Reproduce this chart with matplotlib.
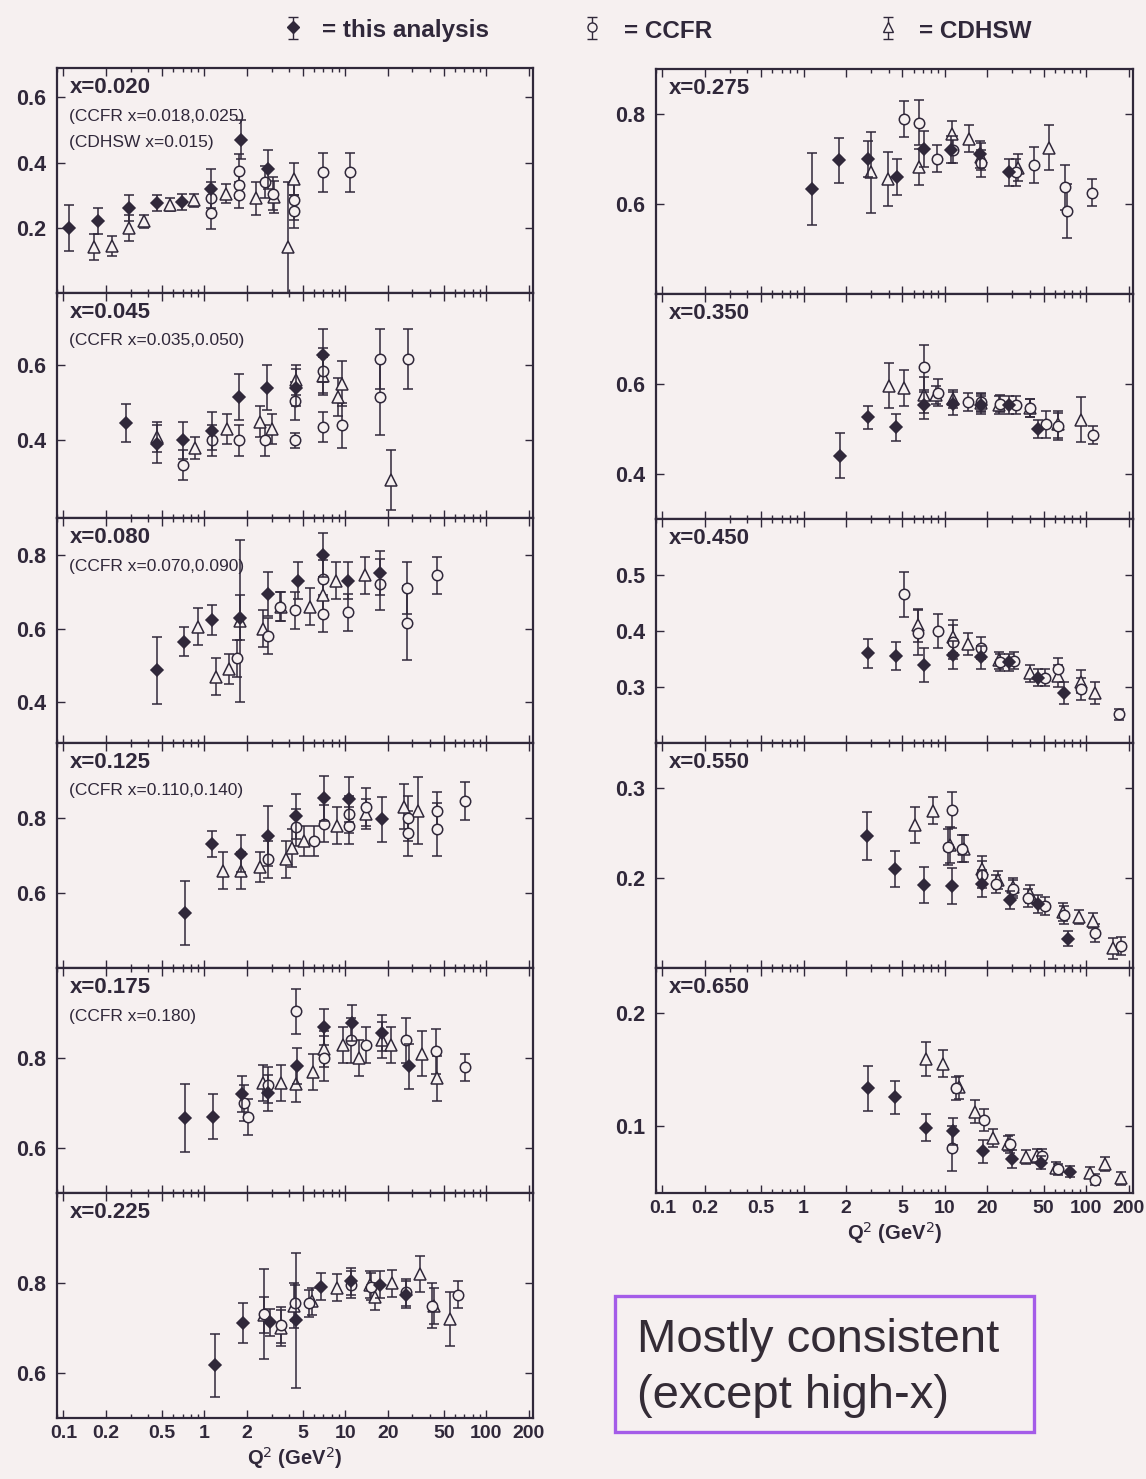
import matplotlib
matplotlib.use('Agg')
import matplotlib.pyplot as plt
from matplotlib.ticker import FixedLocator, FixedFormatter, LogLocator, NullFormatter
from matplotlib.patches import Rectangle

plt.rcParams['font.family'] = ['Liberation Sans', 'DejaVu Sans']

W, H = 1146, 1479
BG = '#f6f0f0'
INK = '#30283a'

# ==================== Data: (Q2, F, error) ====================
# x = 0.020
ANA_020 = [(0.11, 0.20, 0.07), (0.177, 0.22, 0.04), (0.29, 0.26, 0.04), (0.46, 0.275, 0.025),
           (0.69, 0.28, 0.025), (1.12, 0.32, 0.06), (1.83, 0.47, 0.06), (2.85, 0.38, 0.06)]
CCFR_020 = [(1.12, 0.29, 0.05), (1.12, 0.245, 0.05), (1.77, 0.375, 0.05), (1.77, 0.33, 0.04),
            (1.77, 0.30, 0.04), (2.7, 0.34, 0.05), (3.05, 0.305, 0.05), (4.35, 0.25, 0.05),
            (4.35, 0.285, 0.06), (6.9, 0.37, 0.06), (10.8, 0.37, 0.06)]
CDHSW_020 = [(0.166, 0.14, 0.04), (0.22, 0.145, 0.03), (0.29, 0.20, 0.04), (0.375, 0.22, 0.02),
             (0.57, 0.27, 0.02), (0.84, 0.285, 0.02), (1.43, 0.305, 0.03), (2.33, 0.29, 0.05),
             (3.1, 0.295, 0.05), (3.9, 0.14, 0.2), (4.35, 0.35, 0.05)]
# x = 0.045
ANA_045 = [(0.28, 0.447, 0.05), (0.46, 0.39, 0.05), (0.71, 0.40, 0.05), (1.14, 0.425, 0.05),
           (1.77, 0.515, 0.06), (2.8, 0.54, 0.06), (4.5, 0.54, 0.05), (7.0, 0.625, 0.07)]
CCFR_045 = [(0.71, 0.335, 0.04), (1.14, 0.40, 0.04), (1.75, 0.40, 0.04), (2.7, 0.40, 0.04),
            (4.4, 0.505, 0.05), (4.4, 0.40, 0.02), (7.0, 0.585, 0.06), (7.0, 0.435, 0.04),
            (9.5, 0.44, 0.06), (17.7, 0.615, 0.08), (17.7, 0.515, 0.1), (28, 0.615, 0.08)]
CDHSW_045 = [(0.46, 0.41, 0.04), (0.86, 0.38, 0.03), (1.45, 0.43, 0.04), (2.5, 0.45, 0.04),
             (3.0, 0.43, 0.04), (4.5, 0.56, 0.04), (7.0, 0.57, 0.05), (8.9, 0.515, 0.05),
             (9.5, 0.55, 0.06), (21, 0.295, 0.08)]
# x = 0.080
ANA_080 = [(0.46, 0.487, 0.09), (0.72, 0.565, 0.04), (1.14, 0.624, 0.04), (1.8, 0.63, 0.06),
           (2.84, 0.694, 0.06), (4.6, 0.73, 0.05), (7.0, 0.80, 0.06), (10.5, 0.73, 0.05),
           (17.7, 0.75, 0.06)]
CCFR_080 = [(1.7, 0.52, 0.05), (2.84, 0.58, 0.05), (3.45, 0.66, 0.04), (4.4, 0.65, 0.05),
            (7.0, 0.735, 0.05), (7.0, 0.64, 0.05), (10.5, 0.645, 0.05), (17.7, 0.72, 0.07),
            (27.5, 0.615, 0.1), (27.5, 0.71, 0.07), (45, 0.745, 0.05)]
CDHSW_080 = [(0.9, 0.605, 0.05), (1.2, 0.47, 0.05), (1.5, 0.49, 0.04), (1.8, 0.62, 0.22),
             (2.6, 0.60, 0.05), (3.5, 0.66, 0.04), (5.6, 0.66, 0.05), (7.0, 0.69, 0.05),
             (8.6, 0.73, 0.05), (13.7, 0.745, 0.05)]
# x = 0.125
ANA_125 = [(0.73, 0.547, 0.085), (1.14, 0.73, 0.035), (1.83, 0.705, 0.05), (2.85, 0.752, 0.08),
           (4.5, 0.805, 0.06), (7.1, 0.853, 0.06), (10.7, 0.85, 0.06), (18.3, 0.797, 0.06)]
CCFR_125 = [(2.85, 0.69, 0.05), (4.5, 0.775, 0.05), (6.0, 0.74, 0.04), (7.1, 0.785, 0.05),
            (10.7, 0.81, 0.05), (10.7, 0.78, 0.05), (14, 0.83, 0.05), (28, 0.80, 0.06),
            (28, 0.76, 0.06), (45, 0.82, 0.05), (45, 0.77, 0.07), (71, 0.845, 0.05)]
CDHSW_125 = [(1.36, 0.66, 0.05), (1.83, 0.66, 0.05), (2.5, 0.67, 0.04), (3.8, 0.69, 0.05),
             (4.2, 0.72, 0.05), (5.1, 0.74, 0.04), (8.7, 0.78, 0.05), (14, 0.81, 0.04),
             (26, 0.83, 0.06), (33, 0.82, 0.09)]
# x = 0.175
ANA_175 = [(0.73, 0.667, 0.075), (1.16, 0.67, 0.05), (1.86, 0.72, 0.04), (2.84, 0.722, 0.04),
           (4.55, 0.782, 0.04), (7.1, 0.87, 0.04), (11.2, 0.878, 0.04), (18.3, 0.855, 0.04),
           (28.4, 0.782, 0.05)]
CCFR_175 = [(1.9, 0.70, 0.04), (2.05, 0.67, 0.04), (2.84, 0.74, 0.04), (4.5, 0.904, 0.05),
            (7.1, 0.80, 0.05), (11, 0.84, 0.05), (14, 0.83, 0.04), (27, 0.84, 0.05),
            (44, 0.815, 0.05), (71, 0.78, 0.03)]
CDHSW_175 = [(2.6, 0.745, 0.04), (3.5, 0.745, 0.04), (4.5, 0.742, 0.04), (5.9, 0.77, 0.04),
             (7.1, 0.82, 0.04), (9.7, 0.83, 0.04), (12.5, 0.80, 0.04), (18.3, 0.84, 0.04),
             (21, 0.83, 0.04), (35, 0.81, 0.05), (45, 0.755, 0.05)]
# x = 0.225
ANA_225 = [(1.19, 0.617, 0.07), (1.87, 0.711, 0.045), (2.91, 0.713, 0.03), (4.5, 0.717, 0.15),
           (6.7, 0.792, 0.03), (10.9, 0.804, 0.03), (17.7, 0.796, 0.03), (27, 0.774, 0.03)]
CCFR_225 = [(2.63, 0.732, 0.1), (3.5, 0.706, 0.04), (4.4, 0.755, 0.04), (5.5, 0.755, 0.03),
            (10.9, 0.796, 0.03), (15.3, 0.792, 0.03), (27, 0.78, 0.03), (41, 0.75, 0.05),
            (63, 0.774, 0.03)]
CDHSW_225 = [(2.63, 0.73, 0.04), (3.5, 0.70, 0.04), (4.3, 0.75, 0.05), (5.8, 0.76, 0.03),
             (8.7, 0.79, 0.03), (14.9, 0.796, 0.03), (16.2, 0.77, 0.03), (21.6, 0.80, 0.03),
             (34, 0.82, 0.04), (42.5, 0.75, 0.04), (55, 0.72, 0.06)]
# x = 0.275
ANA_275 = [(1.14, 0.633, 0.08), (1.77, 0.697, 0.05), (2.84, 0.70, 0.04), (4.56, 0.66, 0.04),
           (7.1, 0.723, 0.04), (11, 0.72, 0.03), (17.7, 0.71, 0.03), (28.5, 0.67, 0.03)]
CCFR_275 = [(5.1, 0.789, 0.04), (6.6, 0.78, 0.05), (8.8, 0.70, 0.03), (11.5, 0.72, 0.03),
            (18, 0.69, 0.03), (32, 0.67, 0.03), (43, 0.687, 0.04), (71, 0.637, 0.05),
            (73, 0.585, 0.06), (110, 0.625, 0.03)]
CDHSW_275 = [(3.0, 0.67, 0.09), (3.95, 0.655, 0.06), (6.6, 0.683, 0.04), (11.2, 0.755, 0.03),
             (14.8, 0.745, 0.03), (18, 0.705, 0.03), (33, 0.68, 0.03), (55, 0.725, 0.05)]
# x = 0.350
ANA_350 = [(1.8, 0.44, 0.05), (2.84, 0.525, 0.025), (4.5, 0.503, 0.03), (7.1, 0.552, 0.03),
           (11.4, 0.556, 0.025), (18, 0.553, 0.02), (28.5, 0.553, 0.02), (45.5, 0.50, 0.02)]
CCFR_350 = [(7.1, 0.637, 0.05), (9, 0.58, 0.03), (14.5, 0.56, 0.02), (18, 0.56, 0.02),
            (24.5, 0.556, 0.02), (32, 0.553, 0.02), (40, 0.545, 0.02), (52, 0.51, 0.03),
            (63, 0.505, 0.03), (112, 0.487, 0.02)]
CDHSW_350 = [(4.0, 0.595, 0.05), (5.1, 0.59, 0.04), (7.1, 0.575, 0.04), (8.7, 0.575, 0.02),
             (11.5, 0.565, 0.02), (18, 0.557, 0.02), (24, 0.553, 0.02), (40, 0.545, 0.02),
             (63, 0.51, 0.03), (92, 0.52, 0.05)]
# x = 0.450
ANA_450 = [(2.84, 0.36, 0.025), (4.5, 0.355, 0.025), (7.1, 0.34, 0.03), (11.4, 0.358, 0.025),
           (18, 0.353, 0.02), (28.5, 0.344, 0.015), (45.5, 0.317, 0.015), (70, 0.29, 0.02)]
CCFR_450 = [(5.1, 0.465, 0.04), (6.5, 0.397, 0.04), (9, 0.40, 0.03), (11.4, 0.38, 0.03),
            (18, 0.37, 0.02), (24.5, 0.344, 0.015), (31, 0.347, 0.015), (51, 0.317, 0.015),
            (63, 0.332, 0.02), (92, 0.297, 0.02), (170, 0.252, 0.01)]
CDHSW_450 = [(6.5, 0.41, 0.03), (11.4, 0.39, 0.03), (14.5, 0.377, 0.02), (24, 0.348, 0.015),
             (40, 0.325, 0.015), (63, 0.32, 0.02), (92, 0.31, 0.02), (115, 0.29, 0.02)]
# x = 0.550
ANA_550 = [(2.82, 0.247, 0.027), (4.47, 0.21, 0.02), (7.08, 0.192, 0.02), (11.3, 0.191, 0.02),
           (18.3, 0.194, 0.015), (29, 0.176, 0.01), (46, 0.171, 0.01), (75, 0.133, 0.008)]
CCFR_550 = [(11.2, 0.276, 0.02), (10.6, 0.235, 0.02), (13.3, 0.233, 0.015), (18.3, 0.204, 0.015),
            (23, 0.194, 0.01), (30.6, 0.188, 0.01), (38.6, 0.178, 0.01), (51.5, 0.169, 0.01),
            (70, 0.159, 0.01), (115, 0.139, 0.01), (178, 0.125, 0.01)]
CDHSW_550 = [(6.1, 0.259, 0.02), (8.2, 0.275, 0.015), (10.9, 0.237, 0.02), (13.7, 0.233, 0.015),
             (18.3, 0.21, 0.015), (23.7, 0.198, 0.01), (30.6, 0.19, 0.01), (39.8, 0.182, 0.01),
             (68.6, 0.163, 0.01), (89, 0.157, 0.008), (112, 0.153, 0.008), (154, 0.122, 0.012)]
# x = 0.650
ANA_650 = [(2.85, 0.133, 0.02), (4.47, 0.125, 0.015), (7.3, 0.098, 0.012), (11.5, 0.095, 0.012),
           (18.5, 0.077, 0.01), (30, 0.070, 0.008), (48, 0.067, 0.006), (77, 0.059, 0.005)]
CCFR_650 = [(11.9, 0.133, 0.01), (11.2, 0.08, 0.02), (18.8, 0.105, 0.01), (29, 0.084, 0.008),
            (48.5, 0.073, 0.006), (63, 0.061, 0.005), (115, 0.052, 0.005)]
CDHSW_650 = [(7.3, 0.159, 0.015), (9.7, 0.155, 0.012), (12.6, 0.134, 0.01), (16.3, 0.1125, 0.01),
             (21.8, 0.089, 0.008), (28, 0.084, 0.007), (37.6, 0.072, 0.006), (44.6, 0.073, 0.006),
             (61, 0.0625, 0.005), (106, 0.058, 0.005), (137, 0.066, 0.006), (178, 0.053, 0.006)]

X_LABELS = ['x=0.020', 'x=0.045', 'x=0.080', 'x=0.125', 'x=0.175', 'x=0.225',
            'x=0.275', 'x=0.350', 'x=0.450', 'x=0.550', 'x=0.650']
SUB_LABELS = [['(CCFR x=0.018,0.025)', '(CDHSW x=0.015)'], ['(CCFR x=0.035,0.050)'],
              ['(CCFR x=0.070,0.090)'], ['(CCFR x=0.110,0.140)'], ['(CCFR x=0.180)'],
              [], [], [], [], [], []]
Y_TICKS = [[0.2, 0.4, 0.6], [0.4, 0.6], [0.4, 0.6, 0.8], [0.6, 0.8], [0.6, 0.8], [0.6, 0.8],
           [0.6, 0.8], [0.4, 0.6], [0.3, 0.4, 0.5], [0.2, 0.3], [0.1, 0.2]]
Y_LIMS = [(0.0, 0.69), (0.195, 0.79), (0.29, 0.90), (0.40, 1.0), (0.5, 1.0), (0.5, 1.0),
          (0.40, 0.90), (0.30, 0.80), (0.20, 0.60), (0.10, 0.35), (0.04, 0.24)]
ANA = [ANA_020, ANA_045, ANA_080, ANA_125, ANA_175, ANA_225,
       ANA_275, ANA_350, ANA_450, ANA_550, ANA_650]
CCFR = [CCFR_020, CCFR_045, CCFR_080, CCFR_125, CCFR_175, CCFR_225,
        CCFR_275, CCFR_350, CCFR_450, CCFR_550, CCFR_650]
CDHSW = [CDHSW_020, CDHSW_045, CDHSW_080, CDHSW_125, CDHSW_175, CDHSW_225,
         CDHSW_275, CDHSW_350, CDHSW_450, CDHSW_550, CDHSW_650]

Q2_TICKS = [0.1, 0.2, 0.5, 1, 2, 5, 10, 20, 50, 100, 200]
Q2_TICK_LABELS = ['0.1', '0.2', '0.5', '1', '2', '5', '10', '20', '50', '100', '200']


def draw_series(ax, pts, marker, ms, filled):
    q = [p[0] for p in pts]
    f = [p[1] for p in pts]
    e = [p[2] for p in pts]
    ax.errorbar(q, f, yerr=e, fmt=marker, ms=ms, mfc=INK if filled else BG,
                mec=INK, mew=1.1, ecolor=INK, elinewidth=1.1,
                capsize=3.5, capthick=1.1, zorder=4 if filled else 3)


def style_axes(ax, idx, show_x):
    ax.set_facecolor(BG)
    ax.set_xscale('log')
    ax.set_xlim(0.09, 215)
    ax.set_ylim(*Y_LIMS[idx])
    ax.xaxis.set_major_locator(FixedLocator(Q2_TICKS))
    ax.xaxis.set_minor_locator(LogLocator(base=10, subs=(3, 4, 6, 7, 8, 9)))
    ax.xaxis.set_minor_formatter(NullFormatter())
    if show_x:
        ax.xaxis.set_major_formatter(FixedFormatter(Q2_TICK_LABELS))
    else:
        ax.xaxis.set_major_formatter(NullFormatter())
    ax.set_yticks(Y_TICKS[idx])
    ax.set_yticklabels([f'{v:.1f}' for v in Y_TICKS[idx]])
    ax.tick_params(which='both', direction='in', top=True, right=True,
                   color=INK, labelcolor=INK, width=1.0)
    ax.tick_params(which='major', length=6)
    ax.tick_params(which='minor', length=3)
    ax.tick_params(axis='x', labelsize=14, pad=5)
    ax.tick_params(axis='y', labelsize=15.5, pad=8)
    for lab in ax.get_xticklabels() + ax.get_yticklabels():
        lab.set_fontweight('bold')
    for sp in ax.spines.values():
        sp.set_color(INK)
        sp.set_linewidth(1.6)
    ax.text(0.026, 0.96, X_LABELS[idx], transform=ax.transAxes, ha='left', va='top',
            fontsize=16, fontweight='bold', color=INK)
    for k, s in enumerate(SUB_LABELS[idx]):
        ax.text(0.026, 0.82 - 0.12 * k, s, transform=ax.transAxes, ha='left', va='top',
                fontsize=12.5, color=INK)
    if show_x:
        ax.set_xlabel('Q$^2$ (GeV$^2$)', fontsize=14.5, fontweight='bold', color=INK,
                      labelpad=2)


fig = plt.figure(figsize=(W / 100, H / 100), dpi=100, facecolor=BG)

# left column: 6 panels, right column: 5 panels
for i in range(11):
    if i < 6:
        x0, w, top, h = 57, 476, 68 + 225 * i, 225
    else:
        x0, w, top, h = 656, 477, 69 + 224.8 * (i - 6), 224.8
    ax = fig.add_axes([x0 / W, 1 - (top + h) / H, w / W, h / H])
    draw_series(ax, CDHSW[i], '^', 8, False)
    draw_series(ax, CCFR[i], 'o', 7.5, False)
    draw_series(ax, ANA[i], 'D', 6.5, True)
    style_axes(ax, i, show_x=(i == 5 or i == 10))

# overlay in pixel coordinates for the legend row and the comment box
ov = fig.add_axes([0, 0, 1, 1], facecolor='none')
ov.set_xlim(0, W)
ov.set_ylim(H, 0)
ov.axis('off')

legend_items = [(293, 'D', True, '= this analysis', 322),
                (592, 'o', False, '= CCFR', 624),
                (888, '^', False, '= CDHSW', 919)]
for gx, mk, filled, txt, tx in legend_items:
    ov.errorbar([gx], [27], yerr=[[10], [12]], fmt=mk, ms=6.5, mfc=INK if filled else BG,
                mec=INK, mew=1.0, ecolor=INK, elinewidth=1.0, capsize=3.5, capthick=1.0)
    ov.text(tx, 31, txt, ha='left', va='center', fontsize=17.5, fontweight='bold', color=INK)

ov.add_patch(Rectangle((615, 1296), 419, 136, fill=False, edgecolor='#a45ce8', linewidth=2.4))
ov.text(637, 1352, 'Mostly consistent', ha='left', va='baseline', fontsize=34, color='#342c36')
ov.text(637, 1408, '(except high-x)', ha='left', va='baseline', fontsize=34, color='#342c36')

fig.savefig('out.png', dpi=100, facecolor=BG)
